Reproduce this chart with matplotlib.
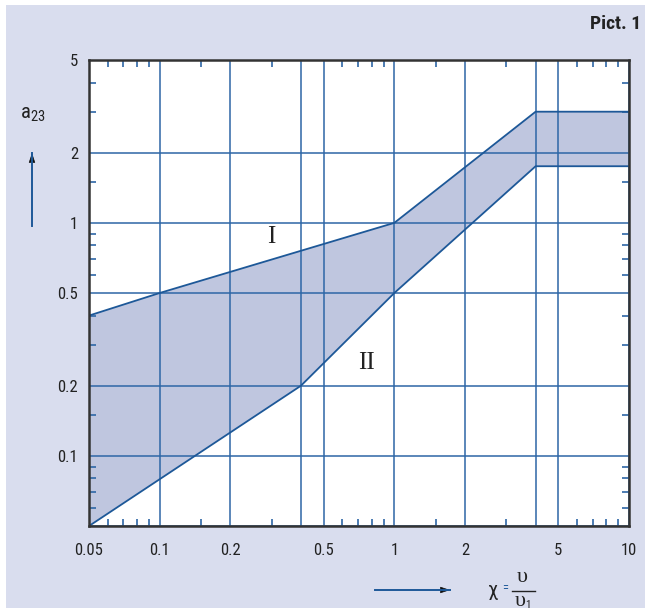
import matplotlib
matplotlib.use("Agg")
import matplotlib.pyplot as plt
from matplotlib import font_manager as fm
from matplotlib.patches import Rectangle, FancyArrowPatch
from matplotlib.lines import Line2D

# ---- data ----
upper_x = [0.05, 0.1, 1, 4, 10]
upper_y = [0.4, 0.5, 1.0, 3.0, 3.0]
lower_x = [0.05, 0.4, 1, 4, 10]
lower_y = [0.05, 0.2, 0.5, 1.75, 1.75]

x_major = [0.05, 0.1, 0.2, 0.4, 0.5, 1, 2, 4, 5, 10]
x_labels = ["0.05", "0.1", "0.2", "", "0.5", "1", "2", "", "5", "10"]
x_minor = [0.06, 0.07, 0.08, 0.09, 0.15, 0.3, 0.6, 0.7, 0.8, 0.9, 1.5, 3, 6, 7, 8, 9]
y_major = [0.05, 0.1, 0.2, 0.5, 1, 2, 5]
y_labels = ["", "0.1", "0.2", "0.5", "1", "2", "5"]
y_minor = [0.06, 0.07, 0.08, 0.09, 0.15, 0.3, 0.4, 0.6, 0.7, 0.8, 0.9, 1.5, 3, 4]

region_labels = ["I", "II"]
region_pos = [(0.3, 0.87), (0.76, 0.25)]

# ---- fonts ----
avail = {f.name for f in fm.fontManager.ttflist}
def pick(*names):
    for n in names:
        if n in avail:
            return n
    return "DejaVu Sans"
SANS = pick("Liberation Sans Narrow", "Roboto Condensed", "Liberation Sans")
SERIF = pick("Liberation Serif", "DejaVu Serif")

BG = "#d9ddee"
BLUE = "#1d5898"
GRID = "#2d66a6"
FILL = "#bfc6df"
TXT = "#222222"

W, H = 645, 611
def fx(px):
    return px / W
def fy(py):
    return 1 - py / H

fig = plt.figure(figsize=(6.45, 6.11), dpi=100)
fig.patch.set_facecolor("white")
fig.add_artist(Rectangle((fx(6), fy(608)), 1 - fx(6), (608 - 5) / H,
                         transform=fig.transFigure, facecolor=BG, edgecolor="none", zorder=-10))

ax = fig.add_axes([fx(89), fy(526), (629 - 89) / W, (526 - 60) / H])
ax.set_facecolor("white")
ax.set_xscale("log")
ax.set_yscale("log")
ax.set_xlim(0.05, 10)
ax.set_ylim(0.05, 5)

# band between the two curves
ax.fill(upper_x + lower_x[::-1], upper_y + lower_y[::-1], facecolor=FILL, edgecolor="none", zorder=1)
ax.plot(upper_x, upper_y, color=BLUE, lw=1.3, zorder=3)
ax.plot(lower_x, lower_y, color=BLUE, lw=1.3, zorder=3)

ax.set_xticks(x_major)
ax.set_xticklabels(x_labels)
ax.set_xticks(x_minor, minor=True)
ax.set_xticklabels([], minor=True)
ax.set_yticks(y_major)
ax.set_yticklabels(y_labels)
ax.set_yticks(y_minor, minor=True)
ax.set_yticklabels([], minor=True)

ax.grid(which="major", color=GRID, lw=1.1, zorder=2)
ax.set_axisbelow(False)
ax.tick_params(which="major", length=0, labelsize=12, labelcolor=TXT)
ax.tick_params(axis="x", which="major", pad=12)
ax.tick_params(axis="y", which="major", pad=8)
ax.tick_params(which="minor", direction="in", length=5, width=1.2, color=GRID,
               top=True, right=True, bottom=True, left=True)
for lab in ax.get_xticklabels() + ax.get_yticklabels():
    lab.set_fontfamily(SANS)
for s in ax.spines.values():
    s.set_color("#333333")
    s.set_linewidth(1.8)
    s.set_zorder(5)

# region labels
for lbl, (px, py) in zip(region_labels, region_pos):
    ax.text(px, py, lbl, family=SERIF, fontsize=18, color=TXT, ha="center", va="center", zorder=4)

# title
fig.text(fx(641), fy(24), "Pict. 1", family=SANS, fontsize=14, fontweight="bold",
         color=TXT, ha="right", va="center")

def arrow(p0, p1):
    fig.add_artist(Line2D([fx(p0[0]), fx(p1[0])], [fy(p0[1]), fy(p1[1])],
                          transform=fig.transFigure, color=BLUE, lw=1.4))
    # small black head at the end
    dx = p1[0] - p0[0]
    dy = p1[1] - p0[1]
    n = (dx * dx + dy * dy) ** 0.5
    start = (p1[0] - 6 * dx / n, p1[1] - 6 * dy / n)
    fig.add_artist(FancyArrowPatch((fx(start[0]), fy(start[1])), (fx(p1[0]), fy(p1[1])),
                                   transform=fig.transFigure,
                                   arrowstyle="-|>,head_length=6,head_width=2",
                                   color="#111111", lw=0.5, mutation_scale=1,
                                   shrinkA=0, shrinkB=0))

# y label and arrow
fig.text(fx(20), fy(115), r"$\mathregular{a_{23}}$", family=SANS, fontsize=15,
         color=TXT, ha="left", va="center")
arrow((32, 226), (32, 153))

# x label and arrow
arrow((375, 590), (450, 590))
fig.text(fx(493), fy(591), "χ", family=SANS, fontsize=15, color=TXT, ha="center", va="center")
fig.text(fx(505), fy(589), "=", family=SANS, fontsize=9, color=BLUE, ha="center", va="center")
fig.text(fx(522), fy(578), "υ", family=SERIF, fontsize=16, color=TXT, ha="center", va="center")
fig.add_artist(Line2D([fx(512), fx(535)], [fy(590.5), fy(590.5)],
                      transform=fig.transFigure, color=TXT, lw=1))
fig.text(fx(520), fy(601), "υ", family=SERIF, fontsize=16, color=TXT, ha="center", va="center")
fig.text(fx(528), fy(605), "1", family=SANS, fontsize=8, color=TXT, ha="center", va="center")

fig.savefig("out.png", dpi=100, facecolor=fig.get_facecolor())
